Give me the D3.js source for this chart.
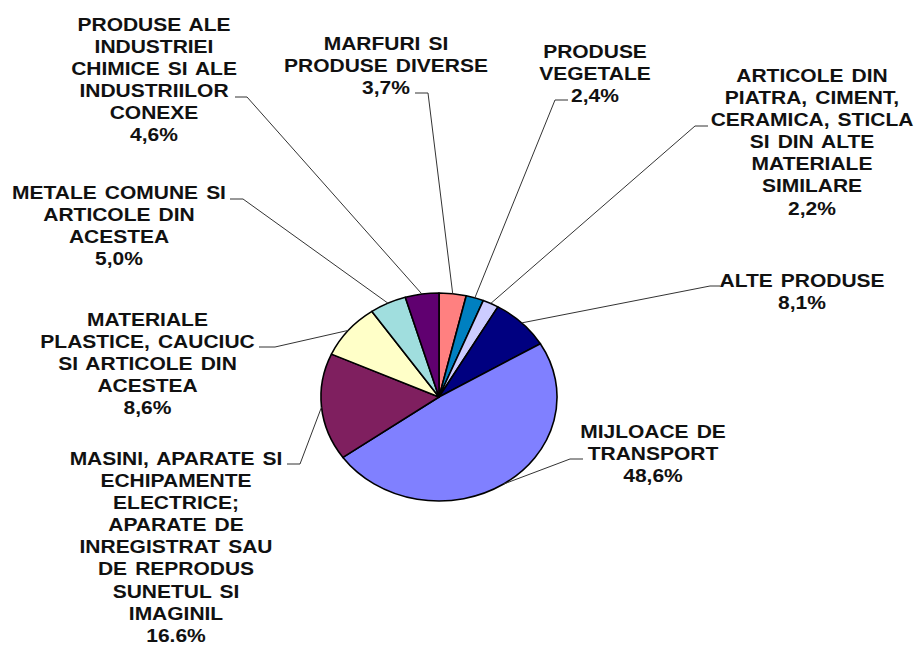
<!DOCTYPE html>
<html lang="ro">
  <head>
    <meta charset="utf-8">
    <title>Structura exporturilor</title>
    <style>
      body { margin: 0; background: #fff; }
      svg text { font-family: "Liberation Sans", Arial, sans-serif; font-weight: bold; font-size: 18.5px; fill: #111; word-spacing: 2px; }
    </style>
  </head>
  <body>
    <svg></svg>
    <script src="https://d3js.org/d3.v7.min.js"></script>
    <script>
      // dimensiuni
      var svgWidth = 914;
      var svgHeight = 645;

      // date (sensul acelor de ceasornic, de la ora 12)
      var categories = [
        ['MARFURI SI', 'PRODUSE DIVERSE'],
        ['PRODUSE', 'VEGETALE'],
        ['ARTICOLE DIN', 'PIATRA, CIMENT,', 'CERAMICA, STICLA', 'SI DIN ALTE', 'MATERIALE', 'SIMILARE'],
        ['ALTE PRODUSE'],
        ['MIJLOACE DE', 'TRANSPORT'],
        ['MASINI, APARATE SI', 'ECHIPAMENTE', 'ELECTRICE;', 'APARATE DE', 'INREGISTRAT SAU', 'DE REPRODUS', 'SUNETUL SI', 'IMAGINIL'],
        ['MATERIALE', 'PLASTICE, CAUCIUC', 'SI ARTICOLE DIN', 'ACESTEA'],
        ['METALE COMUNE SI', 'ARTICOLE DIN', 'ACESTEA'],
        ['PRODUSE ALE', 'INDUSTRIEI', 'CHIMICE SI ALE', 'INDUSTRIILOR', 'CONEXE']
      ];
      var values = [3.7, 2.4, 2.2, 8.1, 48.6, 16.6, 8.6, 5.0, 4.6];
      var valueLabels = ['3,7%', '2,4%', '2,2%', '8,1%', '48,6%', '16.6%', '8,6%', '5,0%', '4,6%'];
      var colors = ['#ff8080', '#0080c0', '#ccccff', '#000080', '#8080ff', '#7f1f5f', '#ffffc8', '#a0dede', '#600070'];

      // asezarea etichetelor: centru text, prima linie, segment orizontal al liniei de ghidaj
      var labelPos = [
        { x: 386, y: 50, hx1: 415, hx2: 428, hy: 93 },
        { x: 595, y: 58, hx1: 568, hx2: 555, hy: 100 },
        { x: 812, y: 82, hx1: 708, hx2: 695, hy: 126 },
        { x: 802, y: 287, hx1: 720, hx2: 710, hy: 286 },
        { x: 653, y: 438, hx1: 583, hx2: 570, hy: 459 },
        { x: 176, y: 465, hx1: 287, hx2: 300, hy: 464 },
        { x: 147.5, y: 326, hx1: 259, hx2: 275, hy: 347 },
        { x: 119, y: 199, hx1: 230, hx2: 243, hy: 199 },
        { x: 154, y: 31, hx1: 235, hx2: 247, hy: 97 }
      ];

      var cx = 439, cy = 397;
      var radius = 104;
      var sx = 1.135; // imaginea e intinsa pe orizontala
      var lineHeight = 22.1;

      var svg = d3.select('svg')
          .attr('width', svgWidth)
          .attr('height', svgHeight);

      var pie = d3.pie().sort(null).value(function(d) { return d; });
      var arcs = pie(values);
      var arc = d3.arc().innerRadius(0).outerRadius(radius);

      var pieG = svg.append('g')
          .attr('transform', 'translate(' + cx + ',' + cy + ') scale(' + sx + ',1)');

      pieG.selectAll('path')
          .data(arcs)
          .enter()
          .append('path')
          .attr('d', arc)
          .attr('fill', function(d, i) { return colors[i]; })
          .attr('stroke', '#000')
          .attr('stroke-width', 1.6)
          .attr('stroke-linejoin', 'round')
          .attr('vector-effect', 'non-scaling-stroke');

      // linii de ghidaj
      svg.selectAll('polyline')
          .data(arcs)
          .enter()
          .append('polyline')
          .attr('points', function(d, i) {
            var a = (d.startAngle + d.endAngle) / 2;
            var px = cx + radius * sx * Math.sin(a);
            var py = cy - radius * Math.cos(a);
            var p = labelPos[i];
            return [[p.hx1, p.hy], [p.hx2, p.hy], [px, py]].join(' ');
          })
          .attr('fill', 'none')
          .attr('stroke', '#333')
          .attr('stroke-width', 1);

      // etichete
      var labels = svg.selectAll('text.lbl')
          .data(arcs)
          .enter()
          .append('text')
          .attr('class', 'lbl')
          .attr('text-anchor', 'middle')
          .attr('transform', function(d, i) {
            return 'translate(' + labelPos[i].x + ',' + labelPos[i].y + ') scale(' + sx + ',1)';
          });

      labels.each(function(d, i) {
        var lines = categories[i].concat([valueLabels[i]]);
        d3.select(this).selectAll('tspan')
            .data(lines)
            .enter()
            .append('tspan')
            .attr('x', 0)
            .attr('y', function(t, j) { return j * lineHeight; })
            .text(function(t) { return t; });
      });
    </script>
  </body>
</html>
